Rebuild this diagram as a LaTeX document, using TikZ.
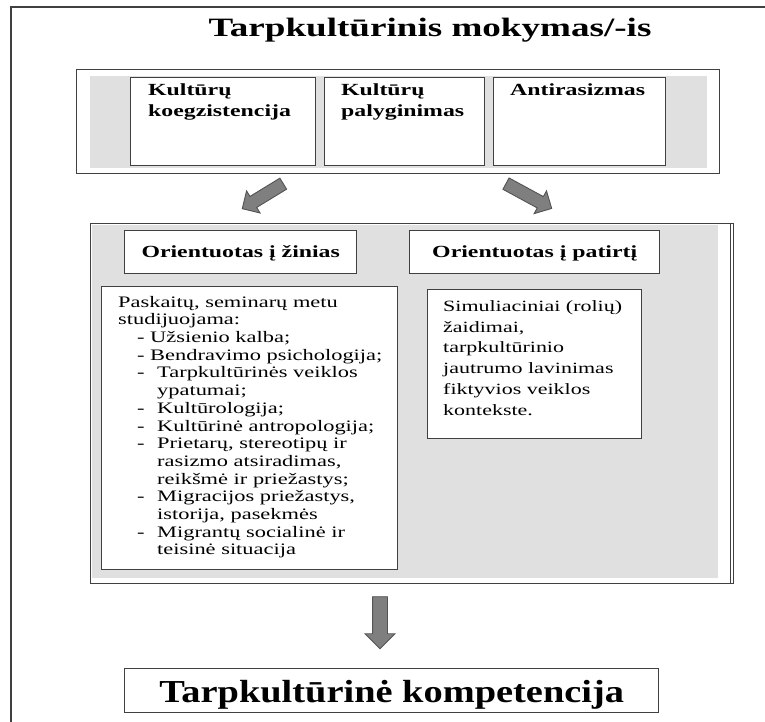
\documentclass[tikz,border=0pt]{standalone}
\usepackage{fontspec}
\setmainfont[FakeStretch=1.4]{Liberation Serif}
\newfontfamily\botfont[FakeStretch=1.2]{Liberation Serif}
\usetikzlibrary{shapes.arrows}
\definecolor{linec}{HTML}{404040}
\definecolor{grayfill}{HTML}{E0E0E0}
\definecolor{arrowfill}{HTML}{7F7F7F}
\begin{document}
\begin{tikzpicture}[x=1pt,y=-1pt,
  box/.style={draw=linec, line width=1.4pt, fill=white, anchor=north west, inner sep=0pt},
  grayzone/.style={fill=grayfill, anchor=north west, inner sep=0pt},
  txt/.style={anchor=north west, inner sep=0pt, align=left},
  blockarrow/.style={single arrow, draw=linec!90, fill=arrowfill, line width=0.9pt,
    inner xsep=0pt, inner ysep=6pt, single arrow head extend=6.5pt},
  bodyfont/.style={font=\fontsize{16}{17.7}\selectfont},
  headfont/.style={font=\fontsize{17}{20.5}\selectfont\bfseries}]
\useasboundingbox (0,0) rectangle (765,722);
\fill[white] (0,0) rectangle (765,722);
\draw[linec, line width=2pt] (11,730) -- (11,7) -- (770,7);

% title
\node (title) [anchor=base, inner sep=0pt, font=\fontsize{26.5}{30}\selectfont\bfseries] at (430,37) {Tarpkultūrinis mokymas/-is};

% top box
\node (top) [box, minimum width=643pt, minimum height=104pt] at (76,69) {};
\node (topgray) [grayzone, minimum width=617pt, minimum height=92pt] at (90,76) {};
\node (b1) [box, minimum width=185pt, minimum height=88pt] at (130,77) {};
\node (b2) [box, minimum width=160pt, minimum height=88pt] at (324,77) {};
\node (b3) [box, minimum width=172pt, minimum height=88pt] at (493,77) {};
\node (t1) [txt, headfont] at (148,84) {Kultūrų\\koegzistencija};
\node (t2) [txt, headfont] at (341,84) {Kultūrų\\palyginimas};
\node (t3) [txt, headfont] at (510,84) {Antirasizmas};

% arrows
\node (a1) [blockarrow, minimum height=48pt, rotate=211.4] at (265.5,194.5) {};
\node (a2) [blockarrow, minimum height=52pt, rotate=331.5] at (526,194.5) {};

% middle box
\node (mid) [box, minimum width=643pt, minimum height=360pt] at (90,223) {};
\node (midgray) [grayzone, minimum width=626pt, minimum height=353pt] at (92,225) {};
\draw[linec, line width=1.4pt] (mid.north east) ++(-4,0) -- ++(0,360);

\node (h1) [box, minimum width=232pt, minimum height=43pt] at (124,230) {};
\node (h2) [box, minimum width=250pt, minimum height=43pt] at (409,230) {};
\node (h1t) [anchor=base, inner sep=0pt, headfont] at (h1.center |- 0,257) {Orientuotas į žinias};
\node (h2t) [anchor=base, inner sep=0pt, headfont] at (h2.center |- 0,257) {Orientuotas į patirtį};

\node (lb) [box, minimum width=296pt, minimum height=283pt] at (101,286) {};
\node (lbt) [txt, bodyfont] at (118,295.8) {Paskaitų, seminarų metu\\
studijuojama:\\
\hspace*{19pt}- Užsienio kalba;\\
\hspace*{19pt}- Bendravimo psichologija;\\
\hspace*{19pt}\makebox[20pt][l]{-}Tarpkultūrinės veiklos\\
\hspace*{39pt}ypatumai;\\
\hspace*{19pt}\makebox[20pt][l]{-}Kultūrologija;\\
\hspace*{19pt}\makebox[20pt][l]{-}Kultūrinė antropologija;\\
\hspace*{19pt}\makebox[20pt][l]{-}Prietarų, stereotipų ir\\
\hspace*{39pt}rasizmo atsiradimas,\\
\hspace*{39pt}reikšmė ir priežastys;\\
\hspace*{19pt}\makebox[20pt][l]{-}Migracijos priežastys,\\
\hspace*{39pt}istorija, pasekmės\\
\hspace*{19pt}\makebox[20pt][l]{-}Migrantų socialinė ir\\
\hspace*{39pt}teisinė situacija};

\node (rb) [box, minimum width=214pt, minimum height=149pt] at (427,289) {};
\node (rbt) [txt, font=\fontsize{15.7}{20.8}\selectfont] at (443,300.3) {Simuliaciniai (rolių)\\
žaidimai,\\
tarpkultūrinio\\
jautrumo lavinimas\\
fiktyvios veiklos\\
kontekste.};

% bottom
\node (a3) [blockarrow, minimum height=52pt, inner ysep=7pt, single arrow head extend=7.5pt, rotate=-90] at (380,619) {};
\node (bot) [box, minimum width=534pt, minimum height=44pt] at (124,668) {};
\node (bott) [anchor=base, inner sep=0pt, font=\botfont\fontsize{32}{36}\selectfont\bfseries] at (bot.center |- 0,702) {Tarpkultūrinė kompetencija};
\end{tikzpicture}
\end{document}
